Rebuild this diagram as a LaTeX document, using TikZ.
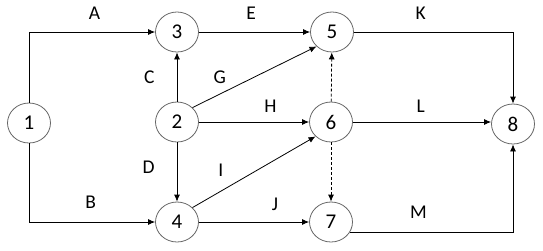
\documentclass[tikz,border=0pt]{standalone}
\usepackage{fontspec}
\setmainfont{Carlito}
\usepackage{tikz}
\usetikzlibrary{arrows.meta,shapes.geometric}

\begin{document}
\begin{tikzpicture}[
    x=1pt, y=-1pt,
    event/.style={ellipse, draw=black!60, line width=0.8pt, minimum width=43pt, minimum height=40pt, inner sep=0pt, font=\fontsize{21}{22}\selectfont},
    lbl/.style={inner sep=0pt, font=\fontsize{19.5}{21}\selectfont},
    act/.style={-{Latex[length=7pt,width=6pt]}, line width=0.8pt},
    dummy/.style={act, dash pattern=on 3pt off 2pt},
]
\useasboundingbox (0,0) rectangle (543,250);

\node[event] (n1) at (29,123) {1};
\node[event] (n2) at (177,122) {2};
\node[event] (n3) at (177,32) {3};
\node[event] (n4) at (177,222) {4};
\node[event] (n5) at (332,32) {5};
\node[event] (n6) at (331,122) {6};
\node[event] (n7) at (331,222) {7};
\node[event] (n8) at (513,124) {8};

\draw[act] (n1.north) |- node[lbl, pos=0.76, above=12pt] (lA) {A} (n3.west);
\draw[act] (n1.south) |- node[lbl, pos=0.745, above=13pt] (lB) {B} (n4.west);
\draw[act] (n2) -- node[lbl, midway, left=22pt] (lC) {C} (n3);
\draw[act] (n2) -- node[lbl, pos=0.425, left=22pt] (lD) {D} (n4);
\draw[act] (n3) -- node[lbl, pos=0.47, above=12pt] (lE) {E} (n5);
\draw[act] (n2.north east) -- node[lbl, pos=0.22, above=10pt] (lG) {G} (n5.south west);
\draw[act] (n2) -- node[lbl, pos=0.65, above=9pt] (lH) {H} (n6);
\draw[act] (n4.north east) -- node[lbl, pos=0.23, above=14pt] (lI) {I} (n6.south west);
\draw[act] (n4) -- node[lbl, pos=0.69, above=11pt] (lJ) {J} (n7);
\draw[act] (n5.east) -| node[lbl, pos=0.21, above=12pt] (lK) {K} (n8.north);
\draw[act] (n6) -- node[lbl, pos=0.49, above=9pt] (lL) {L} (n6 -| n8.west);
\draw[act] (n7.-28) -| node[lbl, pos=0.21, above=13pt] (lM) {M} (n8.south);
\draw[dummy] (n6) -- (n5);
\draw[dummy] (n6) -- (n7);

\end{tikzpicture}
\end{document}
